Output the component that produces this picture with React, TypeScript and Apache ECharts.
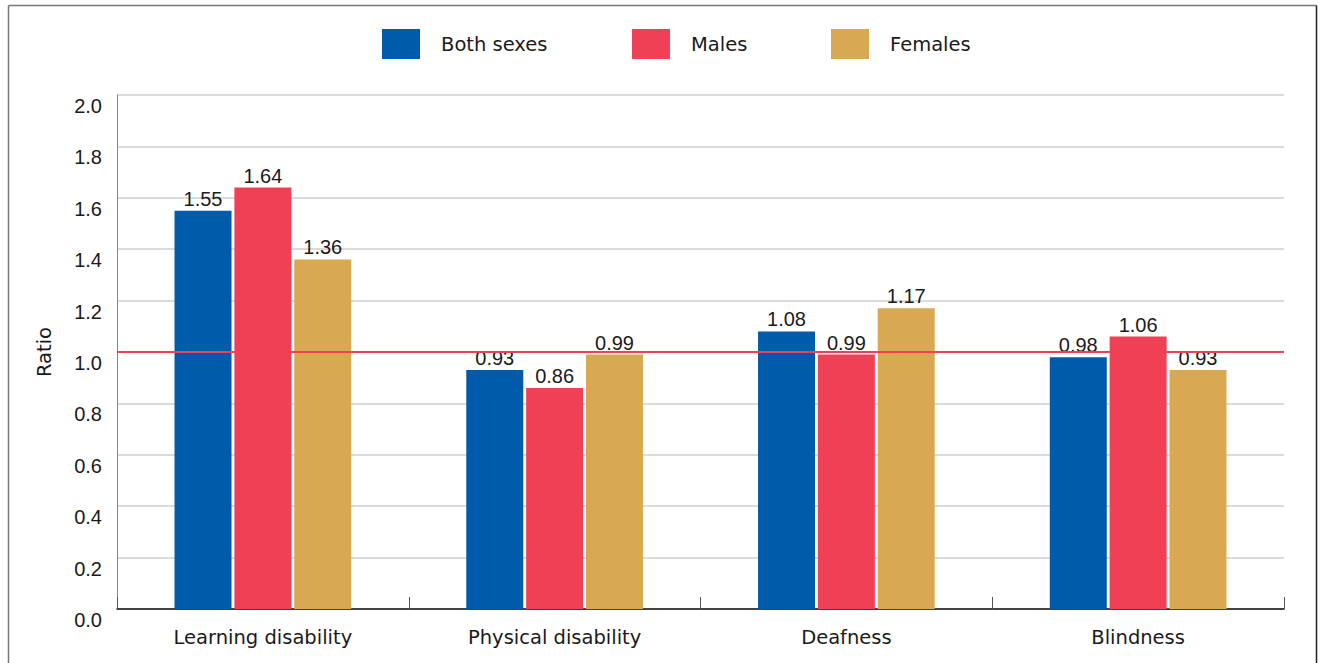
import React, { useEffect, useRef } from "react";
import * as echarts from "echarts";

const categories = ["Learning disability", "Physical disability", "Deafness", "Blindness"];
const bothSexes = [1.55, 0.93, 1.08, 0.98];
const males = [1.64, 0.86, 0.99, 1.06];
const females = [1.36, 0.99, 1.17, 0.93];
const seriesNames = ["Both sexes", "Males", "Females"];
const colors = ["#005BAA", "#EF4056", "#D9A853"];
const NUMFONT = "Liberation Sans, Arial, Helvetica, sans-serif";
const WORDFONT = "DejaVu Sans, Verdana, sans-serif";

export default function App() {
  const ref = useRef<HTMLDivElement>(null);
  useEffect(() => {
    if (!ref.current) return;
    const chart = echarts.init(ref.current, undefined, { renderer: "svg" });
    const values = [bothSexes, males, females];
    const legendLefts = [382, 632, 831];
    chart.setOption({
      animation: false,
      textStyle: { fontFamily: NUMFONT },
      legend: seriesNames.map((n, i) => ({
        data: [n],
        left: legendLefts[i],
        top: 29,
        padding: 0,
        itemWidth: 38,
        itemHeight: 30,
        icon: "rect",
        selectedMode: false,
        textStyle: { fontSize: 19.5, color: "#1a1a1a", fontFamily: WORDFONT, padding: [0, 0, 0, 16] },
      })),
      grid: { left: 117, right: 37, top: 95, bottom: 54, containLabel: false },
      xAxis: {
        type: "category",
        data: categories,
        axisLine: { lineStyle: { color: "#111", width: 1.5 } },
        axisTick: { show: true, inside: true, length: 12, lineStyle: { color: "#555" } },
        axisLabel: { fontSize: 19.5, color: "#1a1a1a", margin: 18, fontFamily: WORDFONT },
      },
      yAxis: {
        type: "value",
        min: 0,
        max: 2,
        interval: 0.2,
        name: "Ratio",
        nameLocation: "middle",
        nameGap: 63,
        nameTextStyle: { fontSize: 19.5, color: "#1a1a1a", fontFamily: WORDFONT },
        axisLine: { show: true, lineStyle: { color: "#888" } },
        axisTick: { show: false },
        axisLabel: {
          fontSize: 20,
          color: "#1a1a1a",
          margin: 15,
          fontFamily: NUMFONT,
          verticalAlign: "top",
          padding: [1, 0, 0, 0],
          formatter: (v: number) => v.toFixed(1),
        },
        splitLine: { lineStyle: { color: "#cfcfcf", width: 1.5 } },
      },
      series: seriesNames.map((n, i) => ({
        name: n,
        type: "bar",
        data: values[i],
        barWidth: 57,
        barGap: "5%",
        itemStyle: { color: colors[i] },
        label: {
          show: true,
          position: "top",
          distance: 2,
          fontSize: 20,
          color: "#1a1a1a",
          fontFamily: NUMFONT,
          formatter: (p: any) => p.value.toFixed(2),
        },
        z: 2,
        markLine:
          i === 0
            ? {
                silent: true,
                symbol: "none",
                label: { show: false },
                lineStyle: { color: "#EF4056", width: 2, type: "solid" },
                data: [{ yAxis: 1 }],
                z: 5,
              }
            : undefined,
      })),
      graphic: [
        { type: "line", shape: { x1: 8.5, y1: 5.5, x2: 8.5, y2: 663 }, style: { stroke: "#777", lineWidth: 1.5 } },
        { type: "line", shape: { x1: 8.5, y1: 5.5, x2: 1316.5, y2: 5.5 }, style: { stroke: "#777", lineWidth: 1.5 } },
        { type: "line", shape: { x1: 1316.5, y1: 5.5, x2: 1316.5, y2: 663 }, style: { stroke: "#222", lineWidth: 1.5 } },
      ],
    });
    return () => chart.dispose();
  }, []);
  return (
    <div
      ref={ref}
      style={{ position: "fixed", left: 0, top: 0, width: 1321, height: 663, background: "#fff" }}
    />
  );
}
